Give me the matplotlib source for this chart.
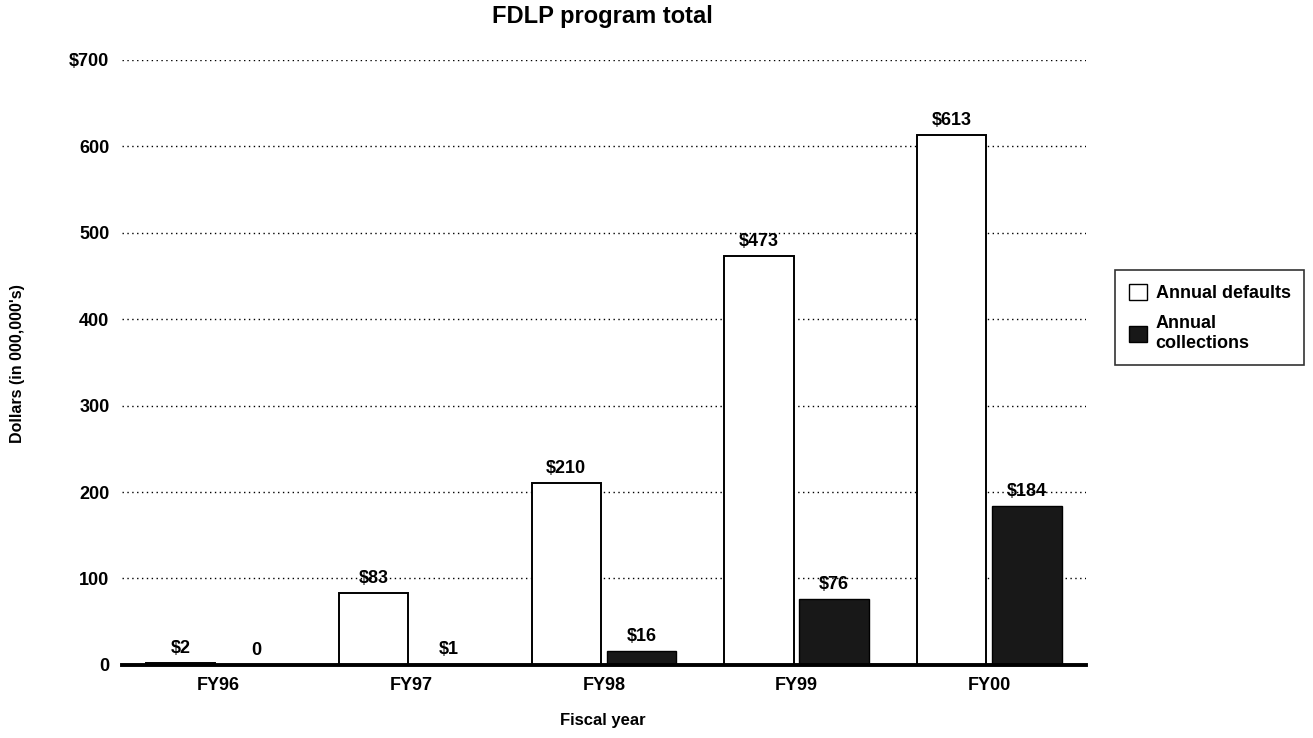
import matplotlib.pyplot as plt
import matplotlib.patches as mpatches

plt.rcParams['font.family'] = ['Liberation Sans', 'DejaVu Sans']
plt.rcParams['font.weight'] = 'bold'

years = ["FY96", "FY97", "FY98", "FY99", "FY00"]
defaults = [2, 83, 210, 473, 613]
collections = [0, 1, 16, 76, 184]
default_labels = ["$2", "$83", "$210", "$473", "$613"]
collection_labels = ["0", "$1", "$16", "$76", "$184"]
yticks = [0, 100, 200, 300, 400, 500, 600, 700]
ytick_labels = ["0", "100", "200", "300", "400", "500", "600", "$700"]

fig = plt.figure(figsize=(13.13, 7.38), dpi=100)
ax = fig.add_axes([0.0929, 0.099, 0.734, 0.82])

x = list(range(len(years)))
off = 0.195
w = 0.36
ax.bar([i - off for i in x], defaults, width=w, color='white', edgecolor='black',
       linewidth=1.4, zorder=3)
ax.bar([i + off for i in x], collections, width=w, color='#181818', edgecolor='black',
       linewidth=1.0, zorder=3)

for i in x:
    ax.text(i - off, defaults[i] + 7, default_labels[i], ha='center', va='bottom',
            fontsize=13, fontweight='bold', zorder=4)
    ax.text(i + off, collections[i] + 7, collection_labels[i], ha='center', va='bottom',
            fontsize=13, fontweight='bold', zorder=4)

ax.set_xlim(-0.5, 4.5)
ax.set_ylim(0, 700)
ax.set_yticks(yticks)
ax.set_yticklabels(ytick_labels, fontsize=13, fontweight='bold')
ax.set_xticks(x)
ax.set_xticklabels(years, fontsize=13, fontweight='bold')
ax.tick_params(axis='both', length=0)
ax.tick_params(axis='y', pad=9)
ax.tick_params(axis='x', pad=9)
ax.yaxis.grid(True, linestyle=(0, (1, 2.5)), color='black', linewidth=1.0, zorder=0)
ax.set_axisbelow(True)
for s in ['top', 'right', 'left']:
    ax.spines[s].set_visible(False)
ax.spines['bottom'].set_linewidth(2.8)
ax.spines['bottom'].set_zorder(5)

fig.text(0.459, 1 - 16 / 738, "FDLP program total", ha='center', va='center',
         fontsize=17, fontweight='bold')
fig.text(0.459, 1 - 721 / 738, "Fiscal year", ha='center', va='center',
         fontsize=12, fontweight='bold')
fig.text(18 / 1313, 1 - 364 / 738, "Dollars (in 000,000's)", ha='center', va='center',
         rotation=90, fontsize=11.5, fontweight='bold')

h1 = mpatches.Patch(facecolor='white', edgecolor='black', label='Annual defaults')
h2 = mpatches.Patch(facecolor='#181818', edgecolor='black', label='Annual\ncollections')
leg = fig.legend(handles=[h1, h2], loc='upper left', bbox_to_anchor=(1115 / 1313, 1 - 270 / 738),
                 fontsize=13, frameon=True, fancybox=False, edgecolor='black',
                 handlelength=1.0, handleheight=1.0, handletextpad=0.5,
                 labelspacing=0.75, borderpad=0.75, borderaxespad=0)
leg.get_frame().set_linewidth(1.2)
for t in leg.get_texts():
    t.set_fontweight('bold')

fig.savefig("out.png", dpi=100)
